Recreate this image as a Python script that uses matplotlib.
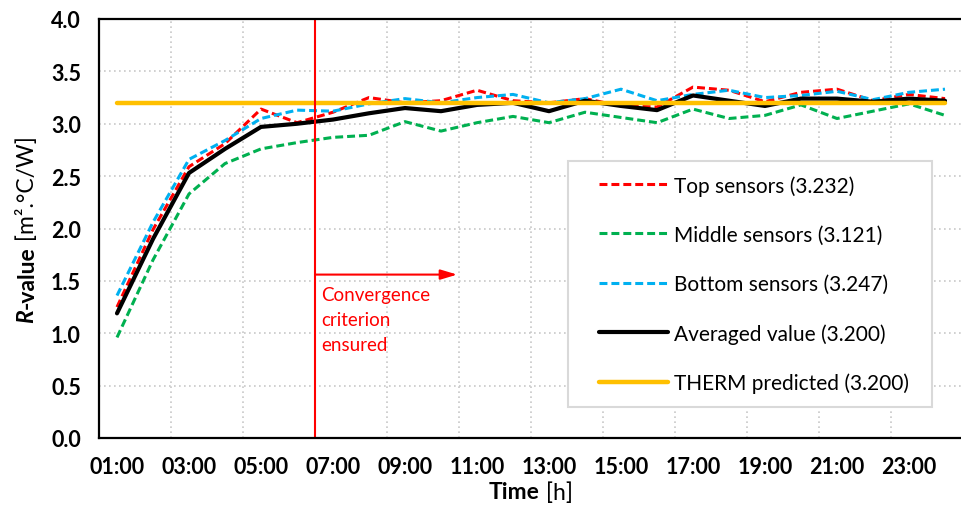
import matplotlib
matplotlib.use('Agg')
import matplotlib.pyplot as plt
from matplotlib.ticker import FixedLocator
from matplotlib.patches import Rectangle

plt.rcParams['font.family'] = ['Lato', 'DejaVu Sans']

# hourly readings, 01:00 .. 24:00
hours = list(range(1, 25))
tick_hours = [1, 3, 5, 7, 9, 11, 13, 15, 17, 19, 21, 23]
tick_labels = ['01:00', '03:00', '05:00', '07:00', '09:00', '11:00',
               '13:00', '15:00', '17:00', '19:00', '21:00', '23:00']

top = [1.25, 1.99, 2.59, 2.81, 3.14, 3.01, 3.11, 3.25, 3.20, 3.22, 3.32, 3.22,
       3.20, 3.24, 3.17, 3.16, 3.35, 3.32, 3.21, 3.30, 3.33, 3.22, 3.28, 3.24]
middle = [0.96, 1.70, 2.33, 2.62, 2.76, 2.82, 2.87, 2.89, 3.02, 2.93, 3.01, 3.07,
          3.01, 3.11, 3.06, 3.01, 3.14, 3.05, 3.08, 3.18, 3.05, 3.12, 3.19, 3.08]
bottom = [1.36, 2.06, 2.66, 2.84, 3.05, 3.13, 3.12, 3.19, 3.24, 3.20, 3.25, 3.28,
          3.20, 3.24, 3.33, 3.22, 3.28, 3.32, 3.25, 3.27, 3.31, 3.23, 3.30, 3.33]
averaged = [1.19, 1.90, 2.53, 2.76, 2.97, 3.00, 3.04, 3.10, 3.15, 3.12, 3.18, 3.20,
            3.12, 3.22, 3.17, 3.13, 3.27, 3.22, 3.17, 3.24, 3.24, 3.21, 3.24, 3.22]
therm = [3.2] * 24

labels = ['Top sensors (3.232)', 'Middle sensors (3.121)', 'Bottom sensors (3.247)',
          'Averaged value (3.200)', 'THERM predicted (3.200)']

converge_hour = 6.5
arrow_end = 10.45
arrow_y = 1.56

W, H = 962, 506
fig = plt.figure(figsize=(W / 100, H / 100), dpi=100)
ax = fig.add_axes([99 / W, 67 / H, 864 / W, 419 / H])

dash = (2.6, 1.3)
ax.plot(hours, top, color='#FF0000', lw=2.2, dashes=dash, label=labels[0])
ax.plot(hours, middle, color='#00B050', lw=2.2, dashes=dash, label=labels[1])
ax.plot(hours, bottom, color='#00B0F0', lw=2.2, dashes=dash, label=labels[2])
ax.plot(hours, averaged, color='black', lw=3.0, solid_capstyle='round', label=labels[3])
ax.plot(hours, therm, color='#FFC000', lw=3.2, solid_capstyle='round', label=labels[4])

# convergence marker
ax.axvline(converge_hour, color='red', lw=1.5)
ax.annotate('', xy=(arrow_end, arrow_y), xytext=(converge_hour, arrow_y),
            arrowprops=dict(arrowstyle='-|>,head_length=1.0,head_width=0.3',
                            color='red', lw=1.5, shrinkA=0, shrinkB=0))
ax.text(converge_hour + 0.17, arrow_y - 0.11, 'Convergence\ncriterion\nensured',
        color='red', fontsize=13.5, va='top', ha='left', linespacing=1.55)

ax.set_xlim(0.5, 24.5)
ax.set_ylim(0, 4)
ax.set_xticks(tick_hours)
ax.set_xticklabels(tick_labels)
ax.xaxis.set_minor_locator(FixedLocator([2.5 + 2 * i for i in range(11)]))
ax.set_yticks([0.5 * i for i in range(9)])
ax.set_yticklabels(['%.1f' % (0.5 * i) for i in range(9)])
ax.tick_params(which='both', length=0)
ax.tick_params(axis='x', pad=13)
ax.tick_params(axis='y', pad=13)
for t in ax.get_xticklabels() + ax.get_yticklabels():
    t.set_fontsize(15.5)
    t.set_fontweight('bold')
ax.grid(axis='y', which='major', color='#C8C8C8', ls=(0, (1, 2)), lw=1.2)
ax.grid(axis='x', which='minor', color='#C8C8C8', ls=(0, (1, 2)), lw=1.2)
ax.set_axisbelow(True)
for s in ['left', 'bottom', 'top']:
    ax.spines[s].set_linewidth(1.6)
ax.spines['right'].set_visible(False)


def px(x, y):
    # image pixel (from top-left) -> axes fraction
    return (x - 99) / 864, 1 - (y - 20) / 419


# legend frame drawn by hand so the padding can match
x0, y0 = px(568, 408)
x1, y1 = px(932, 162)
ax.add_patch(Rectangle((x0, y0), x1 - x0, y1 - y0, transform=ax.transAxes,
                       facecolor='white', edgecolor='#D9D9D9', lw=1.5, zorder=4))
leg = ax.legend(loc='upper left', bbox_to_anchor=px(599, 176), frameon=False,
                fontsize=15, labelspacing=1.4, handlelength=3.3, handletextpad=0.3,
                borderpad=0, borderaxespad=0)
leg.set_zorder(5)

# axis titles with mixed styles
fig.canvas.draw()
renderer = fig.canvas.get_renderer()


def mixed_text(pieces, x, y, rotation, size):
    objs = []
    for s, style, weight in pieces:
        objs.append(fig.text(0, 0, s, fontsize=size, fontstyle=style, fontweight=weight,
                             rotation=rotation, ha='left', va='center',
                             rotation_mode='anchor', transform=None))
    sizes = []
    for o in objs:
        bb = o.get_window_extent(renderer)
        sizes.append(bb.height if rotation == 90 else bb.width)
    pos = -sum(sizes) / 2
    for o, sz in zip(objs, sizes):
        if rotation == 90:
            o.set_position((x, y + pos))
        else:
            o.set_position((x + pos, y))
        pos += sz


ax_bb = ax.get_window_extent(renderer)
mixed_text([('R', 'italic', 'bold'), ('-value', 'normal', 'bold'),
            (' [m\u00b2.\u00b0C/W]', 'normal', 'normal')],
           27, (ax_bb.y0 + ax_bb.y1) / 2, 90, 16.5)
mixed_text([('Time', 'normal', 'bold'), (' [h]', 'normal', 'normal')],
           (ax_bb.x0 + ax_bb.x1) / 2, H - 493, 0, 16.5)

fig.savefig('out.png', dpi=100)
